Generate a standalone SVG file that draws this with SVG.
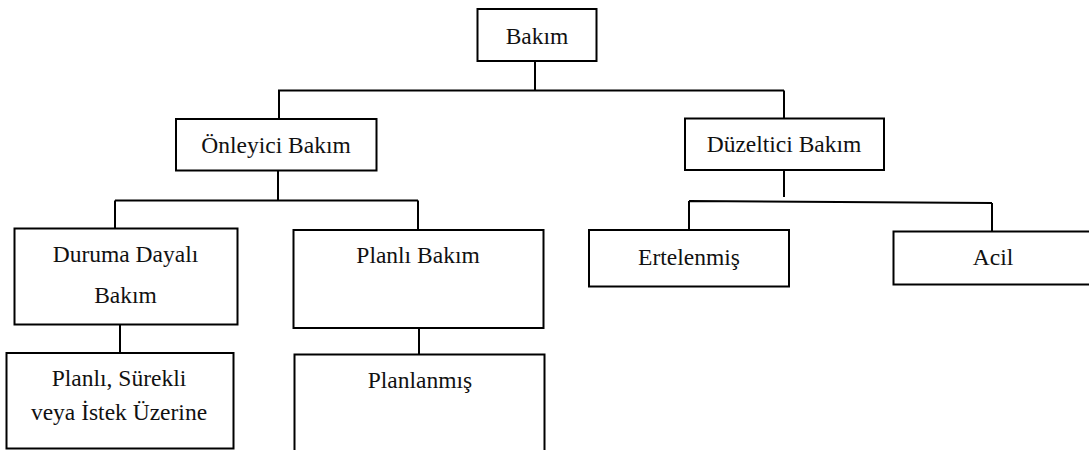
<svg xmlns="http://www.w3.org/2000/svg" width="1089" height="450" viewBox="0 0 1089 450">
  <style>
    .box { fill: #ffffff; stroke: #000000; stroke-width: 2; }
    .conn { fill: none; stroke: #000000; stroke-width: 2; }
    text { font-family: 'Liberation Serif', 'DejaVu Serif', serif; font-size: 23.5px; fill: #111111; text-anchor: middle; }
  </style>
  <rect width="1089" height="450" fill="#ffffff"/>

  <!-- connectors -->
  <g id="connectors">
    <path class="conn" d="M535,61 V90.5 M278,90.5 H784 M279,90.5 V119"/>
    <path class="conn" d="M784,90.5 V118.5"/>
    <path class="conn" d="M278,171 V200.5 M115,200.5 H418 M115,200.5 V228.5 M418,200.5 V230"/>
    <path class="conn" d="M784,170 V197 M689,201 L992,203 M689,201 V230 M992,203 V231.5"/>
    <path class="conn" d="M120,324.5 V353"/>
    <path class="conn" d="M419,328 V354.5"/>
  </g>

  <!-- root -->
  <g id="bakim">
    <rect class="box" x="477.5" y="9" width="119" height="52"/>
    <text x="537" y="44">Bakım</text>
  </g>

  <g id="onleyici">
    <rect class="box" x="176" y="119" width="200.5" height="51.5"/>
    <text x="276" y="153">Önleyici Bakım</text>
  </g>

  <g id="duzeltici">
    <rect class="box" x="685" y="118.5" width="199" height="51.5"/>
    <text x="784" y="152">Düzeltici Bakım</text>
  </g>

  <g id="duruma-dayali">
    <rect class="box" x="14.5" y="228.5" width="223" height="96"/>
    <text x="125.5" y="262">Duruma Dayalı</text>
    <text x="125.5" y="303">Bakım</text>
  </g>

  <g id="planli-bakim">
    <rect class="box" x="293.5" y="230" width="250" height="98"/>
    <text x="418" y="263">Planlı Bakım</text>
  </g>

  <g id="ertelenmis">
    <rect class="box" x="589" y="230" width="200" height="56.5"/>
    <text x="689" y="265">Ertelenmiş</text>
  </g>

  <g id="acil">
    <rect class="box" x="893.5" y="231.5" width="200" height="53"/>
    <text x="993" y="265">Acil</text>
  </g>

  <g id="planli-surekli">
    <rect class="box" x="6.5" y="353" width="227" height="95.5"/>
    <text x="119" y="386">Planlı, Sürekli</text>
    <text x="119" y="420">veya İstek Üzerine</text>
  </g>

  <g id="planlanmis">
    <rect class="box" x="294.5" y="354.5" width="250" height="110"/>
    <text x="420" y="388">Planlanmış</text>
  </g>
</svg>
